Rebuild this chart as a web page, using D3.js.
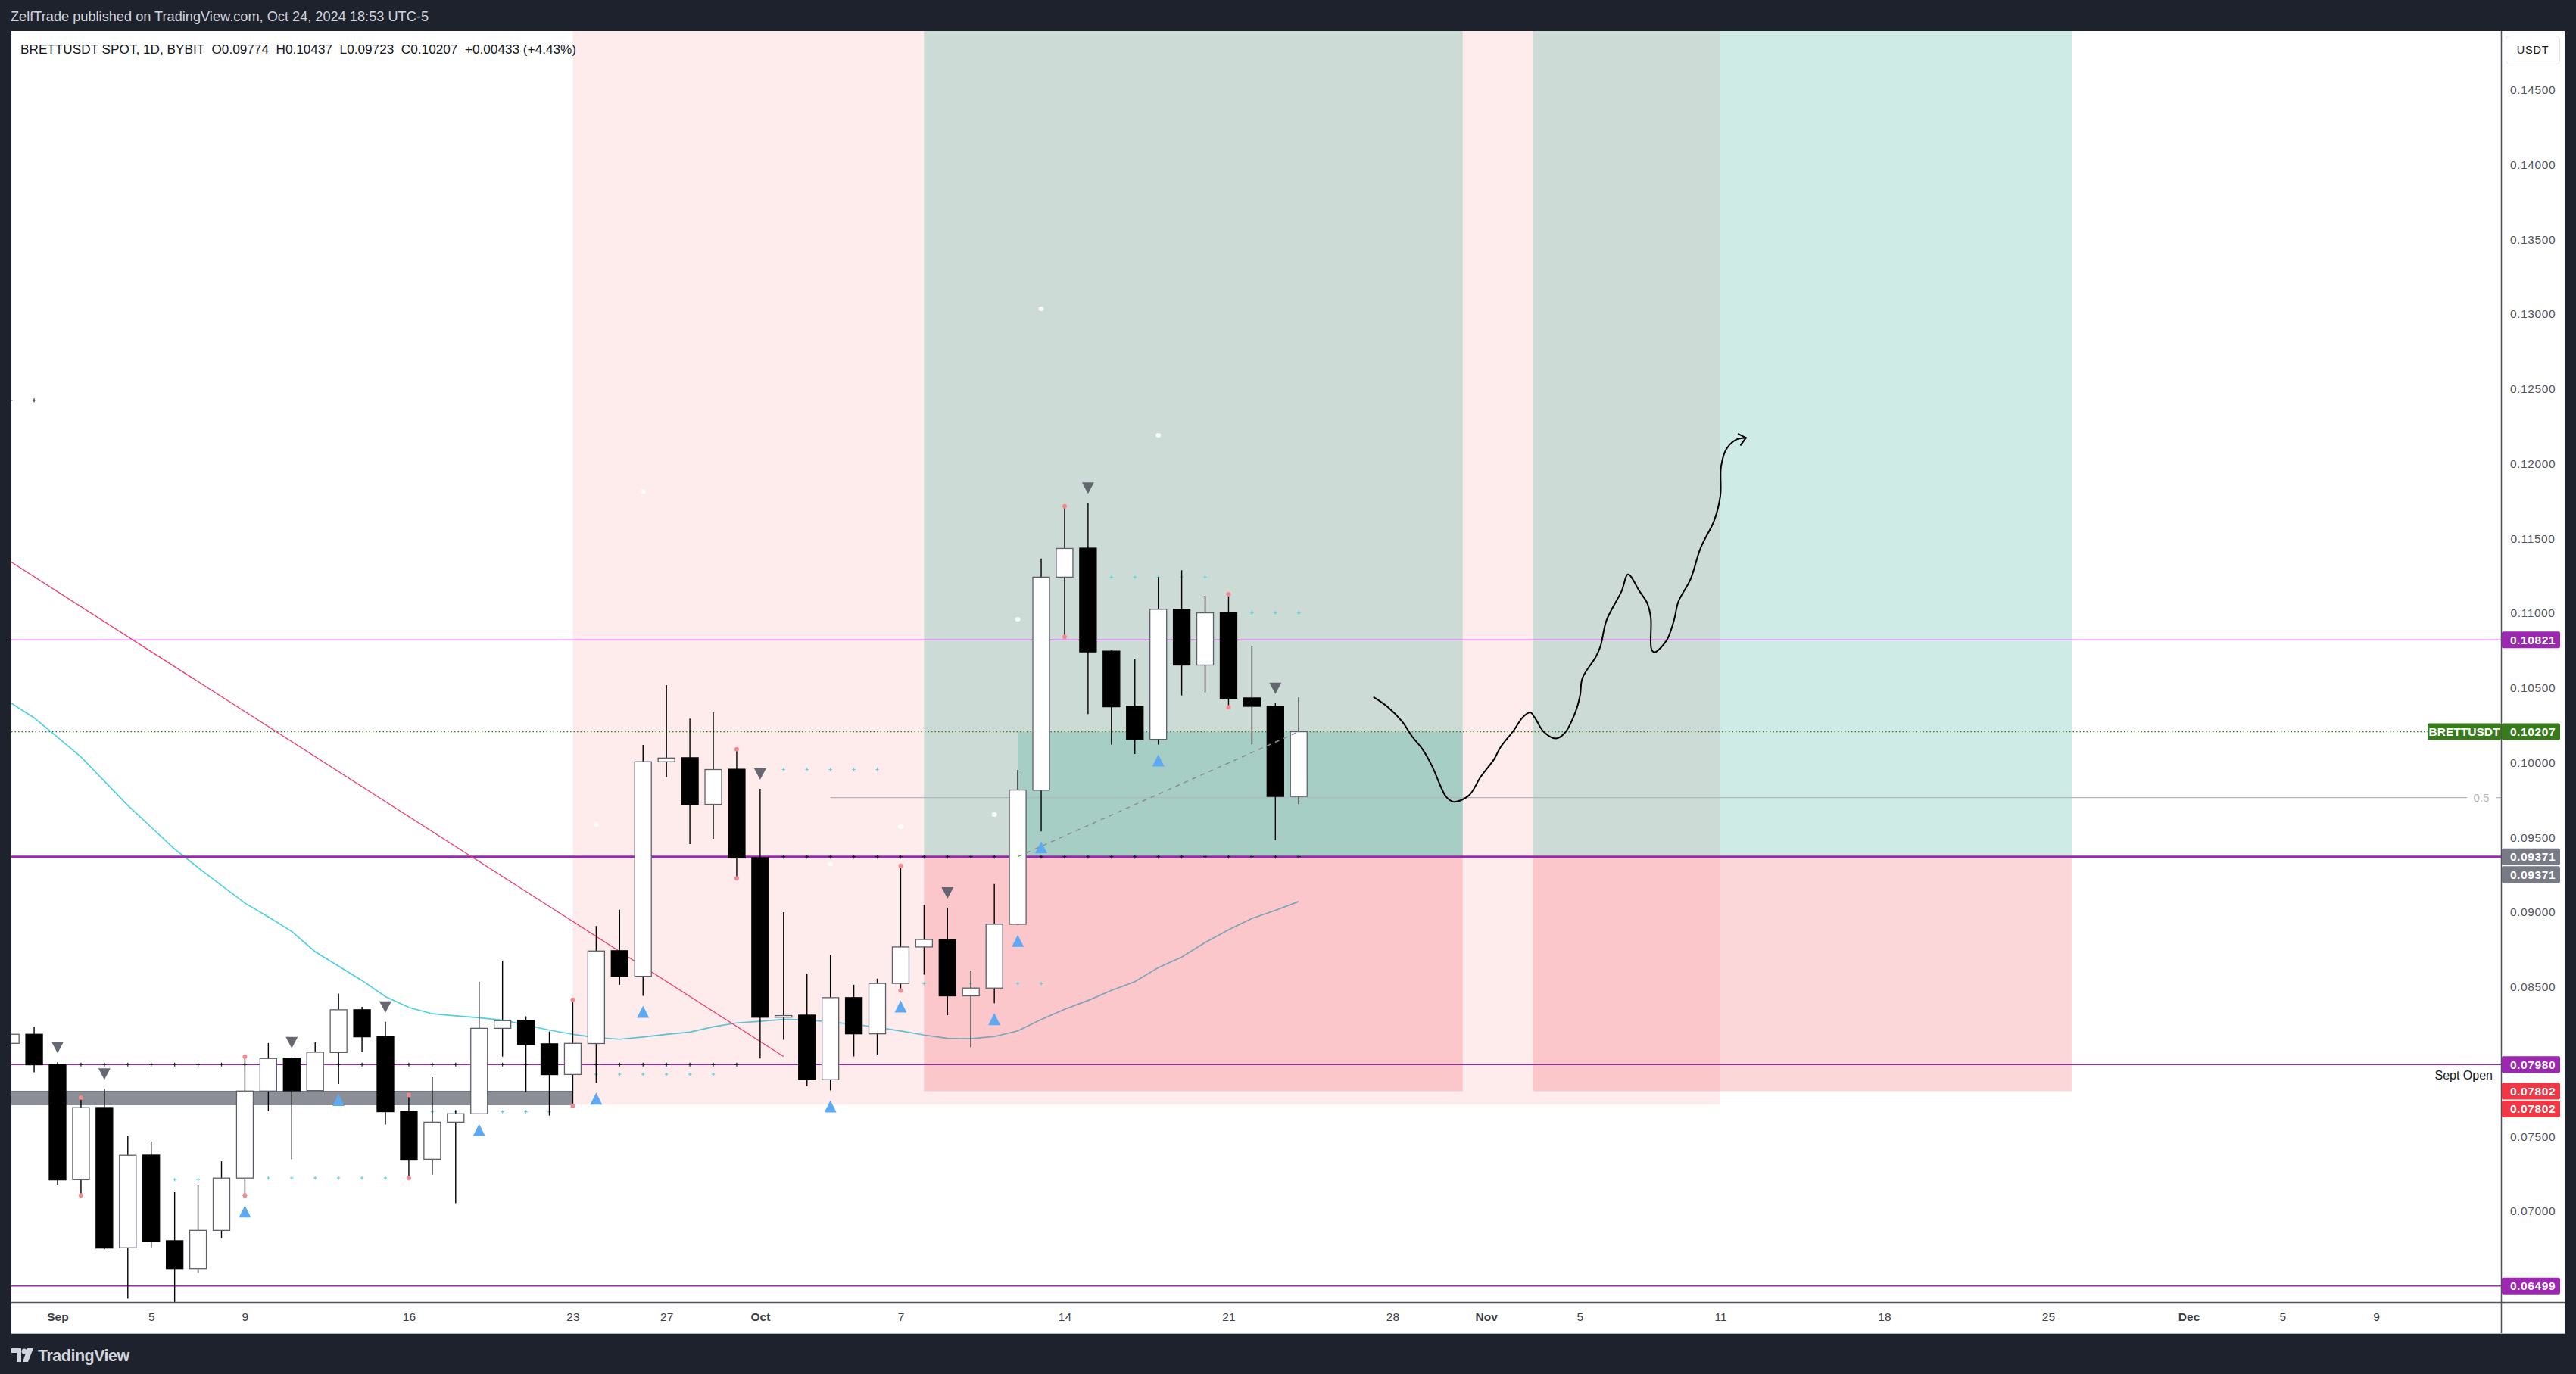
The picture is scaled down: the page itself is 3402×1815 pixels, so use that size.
<!DOCTYPE html>
<html><head><meta charset="utf-8">
<script src="https://cdn.jsdelivr.net/npm/d3@7"></script>
<style>
html,body{margin:0;padding:0;background:#1e222d;overflow:hidden}
svg{display:block}
text{font-family:"Liberation Sans",Arial,sans-serif}
</style></head><body>
<svg id="chart" width="3402" height="1815"></svg>
<script>
// ---------------- DATA ----------------
const dates = ["2024-08-30","2024-08-31","2024-09-01","2024-09-02","2024-09-03","2024-09-04","2024-09-05","2024-09-06","2024-09-07","2024-09-08","2024-09-09","2024-09-10","2024-09-11","2024-09-12","2024-09-13","2024-09-14","2024-09-15","2024-09-16","2024-09-17","2024-09-18","2024-09-19","2024-09-20","2024-09-21","2024-09-22","2024-09-23","2024-09-24","2024-09-25","2024-09-26","2024-09-27","2024-09-28","2024-09-29","2024-09-30","2024-10-01","2024-10-02","2024-10-03","2024-10-04","2024-10-05","2024-10-06","2024-10-07","2024-10-08","2024-10-09","2024-10-10","2024-10-11","2024-10-12","2024-10-13","2024-10-14","2024-10-15","2024-10-16","2024-10-17","2024-10-18","2024-10-19","2024-10-20","2024-10-21","2024-10-22","2024-10-23","2024-10-24"];
const open  = [0.08122,0.08183,0.07982,0.07210,0.07693,0.06755,0.07374,0.06802,0.06616,0.06871,0.07221,0.07803,0.08022,0.07806,0.08061,0.08347,0.08169,0.07668,0.07347,0.07595,0.07651,0.08223,0.08276,0.08119,0.07914,0.08121,0.08742,0.08571,0.10006,0.10033,0.09721,0.09956,0.09364,0.08297,0.08311,0.07879,0.08428,0.08186,0.08523,0.08767,0.08817,0.08440,0.08492,0.08919,0.09816,0.11241,0.11435,0.10746,0.10377,0.10156,0.11026,0.10653,0.11005,0.10433,0.10377,0.09774];
const high  = [0.08274,0.08235,0.07995,0.07759,0.07818,0.07506,0.07465,0.07126,0.07177,0.07334,0.08033,0.08124,0.08029,0.08129,0.08455,0.08367,0.08266,0.07776,0.07896,0.07675,0.08535,0.08675,0.08303,0.08201,0.08414,0.08907,0.09016,0.10119,0.10519,0.10295,0.10336,0.10090,0.09825,0.09000,0.08589,0.08711,0.08514,0.08555,0.09310,0.09048,0.09030,0.08609,0.09188,0.09952,0.11366,0.11715,0.11738,0.10752,0.10691,0.11241,0.11287,0.11116,0.11127,0.10781,0.10398,0.10437];
const low   = [0.08080,0.07928,0.07177,0.07104,0.06745,0.06414,0.06758,0.06392,0.06586,0.06819,0.07104,0.07670,0.07346,0.07806,0.07850,0.08063,0.07579,0.07221,0.07244,0.07052,0.07650,0.08034,0.07796,0.07639,0.07705,0.07859,0.08514,0.08440,0.09904,0.09455,0.09491,0.09226,0.08021,0.08146,0.07836,0.07807,0.08035,0.08048,0.08476,0.08582,0.08311,0.08096,0.08390,0.08915,0.09540,0.10842,0.10325,0.10121,0.10058,0.10121,0.10450,0.10470,0.10371,0.10121,0.09482,0.09723];
const close = [0.08183,0.07979,0.07209,0.07692,0.06753,0.07373,0.06799,0.06616,0.06871,0.07221,0.07803,0.08021,0.07805,0.08063,0.08347,0.08166,0.07665,0.07346,0.07595,0.07651,0.08223,0.08274,0.08115,0.07913,0.08122,0.08740,0.08571,0.10006,0.10031,0.09721,0.09954,0.09362,0.08297,0.08308,0.07879,0.08428,0.08186,0.08523,0.08767,0.08817,0.08440,0.08492,0.08919,0.09817,0.11241,0.11433,0.10741,0.10374,0.10156,0.11026,0.10653,0.11002,0.10430,0.10377,0.09774,0.10207];
const movingAvg = [0.10400,0.10300,0.10170,0.10038,0.09876,0.09714,0.09568,0.09422,0.09298,0.09179,0.09061,0.08968,0.08871,0.08735,0.08639,0.08543,0.08435,0.08363,0.08320,0.08306,0.08294,0.08277,0.08246,0.08211,0.08183,0.08161,0.08150,0.08165,0.08182,0.08198,0.08233,0.08259,0.08270,0.08282,0.08280,0.08265,0.08250,0.08230,0.08205,0.08178,0.08156,0.08153,0.08168,0.08206,0.08282,0.08350,0.08409,0.08477,0.08535,0.08629,0.08700,0.08797,0.08882,0.08958,0.09012,0.09071];

const sellSignalDates = ["2024-09-01","2024-09-03","2024-09-11","2024-09-15","2024-10-01","2024-10-09","2024-10-15","2024-10-23"];
const buySignalDates  = ["2024-09-09","2024-09-13","2024-09-19","2024-09-24","2024-09-26","2024-10-04","2024-10-07","2024-10-11","2024-10-12","2024-10-13","2024-10-18"];
const weeklyOpenDates = ["2024-09-02","2024-09-09","2024-09-16","2024-09-23","2024-09-30","2024-10-07","2024-10-14","2024-10-21"];

const whiteDotDates  = ["2024-09-24","2024-09-26","2024-10-04","2024-10-07","2024-10-11","2024-10-12","2024-10-13","2024-10-18"];
const whiteDotPrices = [0.09587,0.11812,0.09321,0.09572,0.09653,0.10959,0.13036,0.12190];

const blackCrossStart = ["2024-08-30","2024-09-02","2024-10-02"];
const blackCrossEnd   = ["2024-08-31","2024-09-30","2024-10-24"];
const blackCrossLevel = [0.12424,0.07980,0.09371];
const cyanCrossStart = ["2024-09-06","2024-09-10","2024-09-17","2024-09-24","2024-10-02","2024-10-08","2024-10-16","2024-10-22"];
const cyanCrossEnd   = ["2024-09-07","2024-09-16","2024-09-22","2024-09-29","2024-10-06","2024-10-13","2024-10-20","2024-10-24"];
const cyanCrossLevel = [0.07211,0.07221,0.07665,0.07915,0.09954,0.08522,0.11241,0.11002];

const levelPrices = [0.10821,0.09371,0.07980,0.06499];
const levelWidths = [1.2,3,1.2,1.6];
const lastClose = 0.10207;
const fibHalf = 0.09766, fibHalfStart = "2024-10-04";
const trendDates = ["2024-08-30","2024-10-02"], trendPrices = [0.11344,0.08035];
const zoneStart = "2024-09-23", zoneEnd = "2024-11-11", zoneBottom = 0.07712;
const bandStart = "2024-08-20", bandEnd = "2024-09-23", bandTop = 0.07802, bandBottom = 0.07712;
const posStart = ["2024-10-08","2024-11-03"], posEnd = ["2024-10-31","2024-11-26"];
const posEntry = 0.09371, posStop = 0.07802, posTarget = 0.16;
const profitStart = "2024-10-12";
const sketchDay = [56.21,56.81,57.42,57.83,58.28,58.70,59.04,59.30,59.62,60.26,60.77,61.34,61.60,62.18,62.56,62.88,63.07,63.46,63.97,64.35,64.80,65.01,65.11,65.69,65.88,66.14,66.78,67.06,67.55,67.87,68.03,68.06,68.19,68.70,69.02,69.21,69.72,70.16,70.74,71.00,71.03,71.25,71.64,72.09];
const sketchPrice = [0.10437,0.10371,0.10274,0.10177,0.10090,0.09974,0.09848,0.09770,0.09738,0.09780,0.09906,0.10023,0.10100,0.10216,0.10303,0.10336,0.10303,0.10206,0.10162,0.10197,0.10333,0.10449,0.10565,0.10710,0.10778,0.10952,0.11146,0.11259,0.11146,0.11069,0.10972,0.10759,0.10739,0.10817,0.10952,0.11078,0.11224,0.11437,0.11621,0.11786,0.11980,0.12096,0.12158,0.12173];
const arrowWingDay = [71.77,71.87], arrowWingPrice = [0.12199,0.12125];

const priceTicks = [0.145,0.140,0.135,0.130,0.125,0.120,0.115,0.110,0.105,0.100,0.095,0.090,0.085,0.080,0.075,0.070,0.065];
const timeTicks = ["2024-09-01","2024-09-05","2024-09-09","2024-09-16","2024-09-23","2024-09-27","2024-10-01","2024-10-07","2024-10-14","2024-10-21","2024-10-28","2024-11-01","2024-11-05","2024-11-11","2024-11-18","2024-11-25","2024-12-01","2024-12-05","2024-12-09"];
const axisLabelPrices = [0.10821,0.10207,0.09371,0.09371,0.07980,0.07802,0.07802,0.06499];
const axisLabelKinds  = ["level","last","entry","entry","level","stop","stop","level"];

const headerText = "ZelfTrade published on TradingView.com, Oct 24, 2024 18:53 UTC-5";
const legendText = "BRETTUSDT SPOT, 1D, BYBIT  O0.09774  H0.10437  L0.09723  C0.10207  +0.00433 (+4.43%)";

// ---------------- LAYOUT ----------------
const W = 3402, H = 1815;
const P = {l:15, t:41, r:3303, b:1720};
const parse = d3.utcParse("%Y-%m-%d");
const base = parse("2024-09-01");
const dayDate = d => new Date(base.getTime() + d*864e5);
const x = d3.scaleUtc().domain([parse("2024-09-01"), parse("2024-12-09")]).range([76, 3138]);
const y = d3.scaleLinear().domain([0.065, 0.145]).range([1698.6, 118.8]);
const xd = s => x(parse(s));
const bodyW = 22;
const colors = {purple:"#9c27b0", green:"#3a7a1e", gray:"#787b86", red:"#f23645"};
const kindColor = {level:colors.purple, last:colors.green, entry:colors.gray, stop:colors.red};

const svg = d3.select("#chart");
svg.append("rect").attr("width",W).attr("height",H).attr("fill","#1e222d");
svg.append("rect").attr("x",P.l).attr("y",P.t).attr("width",3387-P.l).attr("height",1762-P.t).attr("fill","#ffffff");

svg.append("defs").append("clipPath").attr("id","plotclip").append("rect")
  .attr("x",P.l).attr("y",P.t).attr("width",P.r-P.l).attr("height",P.b-P.t);
const g = svg.append("g").attr("clip-path","url(#plotclip)");

// moving average (under drawings)
g.append("path").datum(dates.map((d,i)=>[xd(d), y(movingAvg[i])]))
  .attr("d", d3.line()).attr("fill","none").attr("stroke","#4fd0e2").attr("stroke-width",1.7);

// highlighted zone
g.append("rect").attr("x",xd(zoneStart)).attr("y",P.t).attr("width",xd(zoneEnd)-xd(zoneStart))
  .attr("height",y(zoneBottom)-P.t).attr("fill","rgba(242,54,69,0.1)");
// position tools
posStart.forEach((s,i)=>{
  const x0 = xd(s), x1 = xd(posEnd[i]);
  g.append("rect").attr("x",x0).attr("y",y(posTarget)).attr("width",x1-x0).attr("height",y(posEntry)-y(posTarget)).attr("fill","rgba(8,153,129,0.2)");
  g.append("rect").attr("x",x0).attr("y",y(posEntry)).attr("width",x1-x0).attr("height",y(posStop)-y(posEntry)).attr("fill","rgba(242,54,69,0.2)");
});
g.append("rect").attr("x",xd(profitStart)).attr("y",y(lastClose)).attr("width",xd(posEnd[0])-xd(profitStart))
  .attr("height",y(posEntry)-y(lastClose)).attr("fill","rgba(8,153,129,0.2)");

// gray band
g.append("rect").attr("x",xd(bandStart)).attr("y",y(bandTop)).attr("width",xd(bandEnd)-xd(bandStart))
  .attr("height",y(bandBottom)-y(bandTop)).attr("fill","#8b8d97").attr("stroke","#6f727d").attr("stroke-width",1);

// horizontal levels
levelPrices.forEach((p,i)=>{
  g.append("line").attr("x1",P.l).attr("x2",P.r).attr("y1",y(p)).attr("y2",y(p))
   .attr("stroke",colors.purple).attr("stroke-width",levelWidths[i]);
});
// fib 0.5 line
g.append("line").attr("x1",xd(fibHalfStart)).attr("x2",3258).attr("y1",y(fibHalf)).attr("y2",y(fibHalf)).attr("stroke","#b2b5be").attr("stroke-width",1.2);
g.append("line").attr("x1",3296).attr("x2",P.r).attr("y1",y(fibHalf)).attr("y2",y(fibHalf)).attr("stroke","#b2b5be").attr("stroke-width",1.2);
g.append("text").attr("x",3277).attr("y",y(fibHalf)+5).attr("text-anchor","middle").attr("font-size",15).attr("fill","#b2b5be").text("0.5");
// last price dotted line
g.append("line").attr("x1",P.l).attr("x2",P.r).attr("y1",y(lastClose)).attr("y2",y(lastClose))
  .attr("stroke",colors.green).attr("stroke-width",1.2).attr("stroke-dasharray","1.5,3");
// trend line
g.append("line").attr("x1",xd(trendDates[0])).attr("y1",y(trendPrices[0])).attr("x2",xd(trendDates[1])).attr("y2",y(trendPrices[1]))
  .attr("stroke","#ee3d6c").attr("stroke-width",1.3);

// cross markers
function crosses(starts, ends, levels, color, size){
  starts.forEach((s,i)=>{
    d3.utcDay.range(parse(s), d3.utcDay.offset(parse(ends[i]),1)).forEach(d=>{
      const cx = x(d), cy = y(levels[i]);
      g.append("path").attr("d",`M${cx-size},${cy}H${cx+size}M${cx},${cy-size}V${cy+size}`)
        .attr("stroke",color).attr("stroke-width",1.2);
    });
  });
}
crosses(blackCrossStart, blackCrossEnd, blackCrossLevel, "#1e222d", 2.5);
crosses(cyanCrossStart, cyanCrossEnd, cyanCrossLevel, "#5fd3e3", 2.2);

// white dots
g.selectAll("ellipse.wd").data(whiteDotDates).join("ellipse")
  .attr("cx",(d)=>xd(d)).attr("cy",(d,i)=>y(whiteDotPrices[i])).attr("rx",3.5).attr("ry",3).attr("fill","#ffffff").attr("opacity",0.85);

// candles
const idx = d3.range(dates.length);
g.selectAll("line.wick").data(idx).join("line")
  .attr("x1",i=>xd(dates[i])).attr("x2",i=>xd(dates[i]))
  .attr("y1",i=>y(high[i])).attr("y2",i=>y(low[i]))
  .attr("stroke","#000").attr("stroke-width",1.4);
g.selectAll("rect.body").data(idx).join("rect")
  .attr("x",i=>xd(dates[i])-bodyW/2).attr("width",bodyW)
  .attr("y",i=>y(Math.max(open[i],close[i])))
  .attr("height",i=>Math.max(2,Math.abs(y(open[i])-y(close[i]))))
  .attr("fill",i=>close[i]>=open[i]?"#ffffff":"#000000")
  .attr("stroke",i=>close[i]>=open[i]?"#5d606b":"#000000").attr("stroke-width",1.3);

// weekly high/low dots
weeklyOpenDates.forEach(d=>{
  const i = dates.indexOf(d);
  [high[i], low[i]].forEach(p=> g.append("circle").attr("cx",xd(d)).attr("cy",y(p)).attr("r",3).attr("fill","#f58a8e"));
});

// signal triangles
sellSignalDates.forEach(d=>{
  const i = dates.indexOf(d), cx = xd(d), yb = y(high[i]) - 12;
  g.append("path").attr("d",`M${cx-8},${yb-15}L${cx+8},${yb-15}L${cx},${yb}Z`).attr("fill","#5d606b").attr("opacity",0.95);
});
buySignalDates.forEach(d=>{
  const i = dates.indexOf(d), cx = xd(d), yt = y(low[i]) + 13;
  g.append("path").attr("d",`M${cx-8},${yt+16}L${cx+8},${yt+16}L${cx},${yt}Z`).attr("fill","#5eaaf2");
});

// position dashed line
g.append("line").attr("x1",xd(profitStart)).attr("y1",y(posEntry)).attr("x2",xd(dates[dates.length-1])).attr("y2",y(lastClose))
  .attr("stroke","#8a8d96").attr("stroke-width",1.5).attr("stroke-dasharray","6,6");

// hand-drawn projection
const sketchPts = sketchDay.map((d,i)=>[x(dayDate(d)), y(sketchPrice[i])]);
g.append("path").attr("d", d3.line().curve(d3.curveCatmullRom.alpha(0.5))(sketchPts))
  .attr("fill","none").attr("stroke","#000").attr("stroke-width",2).attr("stroke-linecap","round").attr("stroke-linejoin","round");
const tip = sketchPts[sketchPts.length-1];
arrowWingDay.forEach((d,i)=>{
  g.append("line").attr("x1",tip[0]).attr("y1",tip[1]).attr("x2",x(dayDate(d))).attr("y2",y(arrowWingPrice[i]))
   .attr("stroke","#000").attr("stroke-width",2).attr("stroke-linecap","round");
});

// Sept Open text
g.append("text").attr("x",3292).attr("y",y(0.07980)+20).attr("text-anchor","end").attr("font-size",16).attr("fill","#131722").text("Sept Open");

// ---------------- AXES ----------------
// frame lines
svg.append("line").attr("x1",P.l).attr("x2",3387).attr("y1",P.b+0.5).attr("y2",P.b+0.5).attr("stroke","#50535e").attr("stroke-width",1.5);
svg.append("line").attr("x1",P.r+0.5).attr("x2",P.r+0.5).attr("y1",P.t).attr("y2",1762).attr("stroke","#50535e").attr("stroke-width",1.5);
svg.append("line").attr("x1",P.l).attr("x2",3387).attr("y1",1761.5).attr("y2",1761.5).attr("stroke","#b2b5be").attr("stroke-width",1);

// price axis tick labels, hidden under label boxes
const labelYs = [];
axisLabelPrices.forEach((p,i)=>{
  let yy = y(p);
  if (labelYs.length && yy < labelYs[labelYs.length-1] + 23.5) yy = labelYs[labelYs.length-1] + 23.5;
  labelYs.push(yy);
});
const visibleTicks = priceTicks.filter(p => labelYs.every(ly => Math.abs(ly - y(p)) > 16));
const yAxis = d3.axisRight(y).tickValues(visibleTicks).tickFormat(d3.format(".5f")).tickSize(0).tickPadding(0);
const ya = svg.append("g").attr("transform",`translate(3345,0)`).call(yAxis);
ya.select(".domain").remove();
ya.selectAll("text").attr("text-anchor","middle").attr("font-size",15.5).attr("fill","#50535e")
  .attr("font-family","'Liberation Sans',Arial,sans-serif").style("letter-spacing","0.6px");

// axis label boxes
const lastLabelY = labelYs[axisLabelKinds.indexOf("last")];
axisLabelPrices.forEach((p,i)=>{
  const c = kindColor[axisLabelKinds[i]];
  svg.append("rect").attr("x",P.r+1).attr("y",labelYs[i]-11).attr("width",77).attr("height",22).attr("rx",2).attr("fill",c);
  svg.append("text").attr("x",3345).attr("y",labelYs[i]+5.5).attr("text-anchor","middle").attr("font-size",15.5)
    .attr("font-weight","bold").attr("fill","#ffffff").style("letter-spacing","0.6px").text(d3.format(".5f")(p));
});
// symbol label
svg.append("rect").attr("x",3206).attr("y",lastLabelY-11).attr("width",97).attr("height",22).attr("rx",2).attr("fill",colors.green);
svg.append("text").attr("x",3254.5).attr("y",lastLabelY+5.5).attr("text-anchor","middle").attr("font-size",15.5)
  .attr("font-weight","bold").attr("fill","#fff").text("BRETTUSDT");
// currency box
svg.append("rect").attr("x",3309.5).attr("y",47.5).attr("width",71).attr("height",37).attr("rx",5).attr("fill","#fff").attr("stroke","#e0e3eb");
svg.append("text").attr("x",3345).attr("y",71).attr("text-anchor","middle").attr("font-size",14.5).attr("fill","#131722").style("letter-spacing","0.8px").text("USDT");

// time axis
const monthFmt = d3.utcFormat("%b"), dayFmt = d3.utcFormat("%-d");
const xAxis = d3.axisBottom(x).tickValues(timeTicks.map(parse)).tickSize(0).tickPadding(0)
  .tickFormat(d => d.getUTCDate()===1 ? monthFmt(d) : dayFmt(d));
const xa = svg.append("g").attr("transform",`translate(0,1734)`).call(xAxis);
xa.select(".domain").remove();
xa.selectAll("text").attr("font-size",15.5).attr("fill","#3b3e48").attr("font-family","'Liberation Sans',Arial,sans-serif")
  .attr("font-weight", d => d.getUTCDate()===1 ? "bold" : "normal");

// header & legend
svg.append("text").attr("x",14).attr("y",28).attr("font-size",18.2).attr("fill","#d1d4dc").text(headerText);
svg.append("text").attr("x",27).attr("y",71).attr("font-size",17.2).attr("fill","#131722").style("white-space","pre").text(legendText);

// footer logo
const lg = svg.append("g").attr("fill","#d1d4dc");
lg.append("path").attr("d","M15,1781H28V1799H22V1787H15Z");
lg.append("circle").attr("cx",32).attr("cy",1785).attr("r",3.5);
lg.append("path").attr("d","M36,1781H44L37,1799H30Z");
svg.append("text").attr("x",50).attr("y",1798).attr("font-size",21.5).attr("font-weight","bold").attr("fill","#d1d4dc")
  .style("letter-spacing","-0.5px").text("TradingView");
</script>
</body></html>
